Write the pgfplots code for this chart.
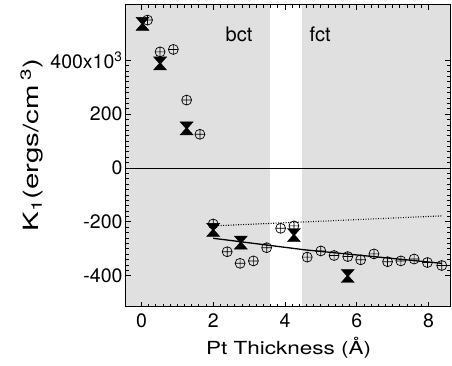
\documentclass[border=0pt]{standalone}
\usepackage{fontspec}
\setmainfont{TeX Gyre Heros}
\usepackage{graphicx}
\usepackage{pgfplots}
\pgfplotsset{compat=1.18}

\pgfdeclareplotmark{hourglass}{%
  \pgfpathmoveto{\pgfqpoint{-\pgfplotmarksize}{\pgfplotmarksize}}%
  \pgfpathlineto{\pgfqpoint{\pgfplotmarksize}{\pgfplotmarksize}}%
  \pgfpathlineto{\pgfqpoint{0.8pt}{0pt}}%
  \pgfpathlineto{\pgfqpoint{\pgfplotmarksize}{-\pgfplotmarksize}}%
  \pgfpathlineto{\pgfqpoint{-\pgfplotmarksize}{-\pgfplotmarksize}}%
  \pgfpathlineto{\pgfqpoint{-0.8pt}{0pt}}%
  \pgfpathclose
  \pgfusepathqfillstroke}

\pgfplotstableread{
x y
0.17 549
0.52 431
0.89 440
1.26 252
1.63 125
2.00 -208
2.39 -311
2.75 -354
3.12 -345
3.49 -296
3.88 -224
4.25 -215
4.62 -331
5.00 -308
5.37 -325
5.75 -329
6.11 -341
6.48 -319
6.86 -348
7.23 -345
7.60 -338
7.97 -351
8.37 -362
}\circdata

\pgfplotstableread{
x y
0.03 535
0.52 388
1.26 147
2.00 -230
2.77 -277
4.25 -249
5.75 -401
}\hourdata

\begin{document}
\begin{tikzpicture}
\useasboundingbox (-126pt,-59.3pt) rectangle (326pt,306.7pt);
\begin{axis}[
  at={(0pt,0pt)}, anchor=south west,
  scale only axis, width=324pt, height=301.7pt,
  xmin=-0.43, xmax=8.6, ymin=-515, ymax=605,
  xtick={0,2,4,6,8}, xticklabels={0,2,4,6,8},
  ytick={-400,-200,0,200,400},
  yticklabels={-400,-200,0,200,400x10\textsuperscript{3}},
  minor x tick num=9, minor y tick num=9,
  tick align=inside, xtick pos=both, ytick pos=both,
  major tick length=5pt, minor tick length=3pt,
  tick style={black, line width=0.7pt},
  axis line style={black, line width=1pt},
  axis on top,
  xticklabel style={font=\fontsize{19.5}{22}\selectfont, yshift=-3.5pt},
  yticklabel style={font=\fontsize{19.5}{22}\selectfont},
  xlabel={\scalebox{1.25}[1]{Pt Thickness (Å)}},
  xlabel style={font=\fontsize{18}{22}\selectfont, at={(axis description cs:0.502,-0.16)}, anchor=base},
  ylabel={\scalebox{1.4}[1]{K\textsubscript{1}(ergs/cm\,\textsuperscript{3})}},
  ylabel style={font=\fontsize{21}{24}\selectfont, at={(axis description cs:-0.27,0.536)}, anchor=base},
  clip=true,
]
\addplot[fill=black!12, draw=none, forget plot] coordinates {(-1,-700) (3.57,-700) (3.57,700) (-1,700)} -- cycle;
\addplot[fill=black!12, draw=none, forget plot] coordinates {(4.48,-700) (9,-700) (9,700) (4.48,700)} -- cycle;
\addplot[black, line width=0.9pt, forget plot] coordinates {(-1,0) (9,0)};
\addplot[black, line width=1.3pt, forget plot] coordinates {(2.0,-261) (4.56,-304) (8.37,-354)};
\addplot[black, line width=1.1pt, dash pattern=on 0.9pt off 1.6pt, forget plot] coordinates {(2.0,-215) (8.37,-178)};
\addplot[only marks, mark=oplus, mark size=5pt, black, line width=0.7pt, mark options={fill=none}] table[x=x,y=y] {\circdata};
\addplot[only marks, mark=hourglass, mark size=6.5pt, black, fill=black, line width=0.4pt] table[x=x,y=y] {\hourdata};
\node[font=\fontsize{20}{24}\selectfont, anchor=base] at (axis cs:2.72,471) {bct};
\node[font=\fontsize{20}{24}\selectfont, anchor=base] at (axis cs:4.98,471) {fct};
\end{axis}
\end{tikzpicture}
\end{document}
